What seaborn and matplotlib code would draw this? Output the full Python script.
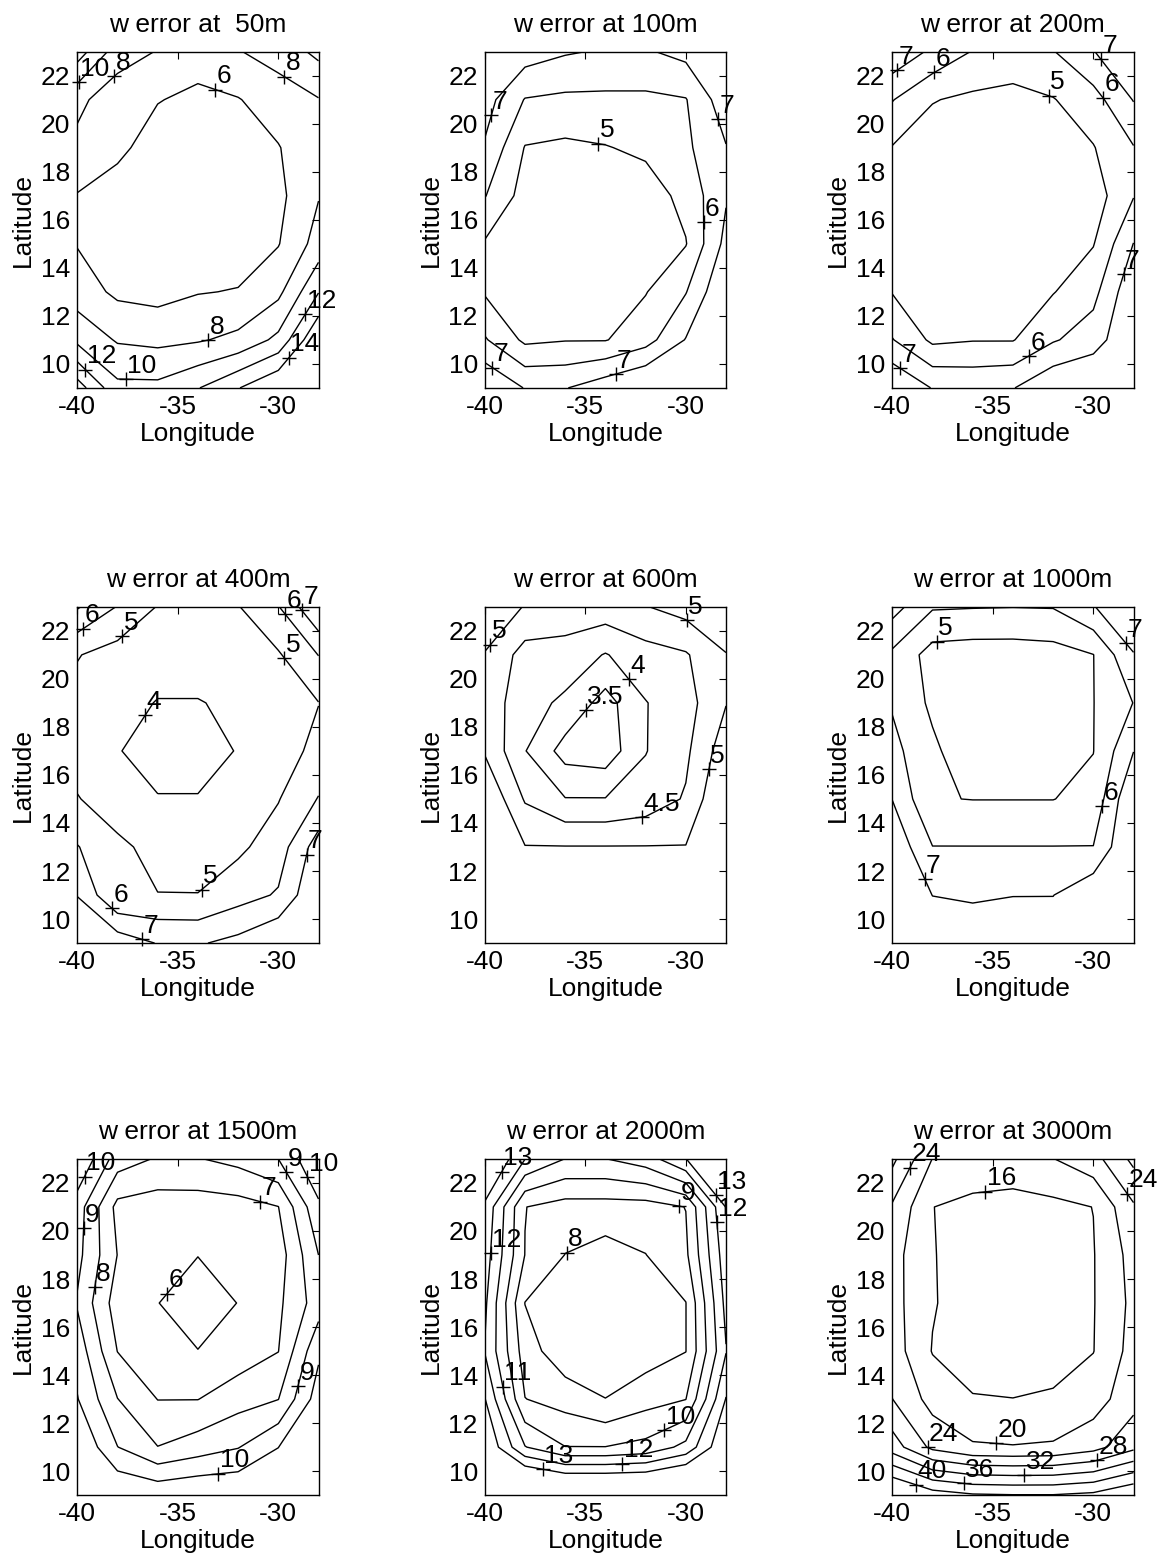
import numpy as np
import matplotlib
matplotlib.use("Agg")
import matplotlib.pyplot as plt
import seaborn as sns

sns.set_style("white")
plt.rcParams['font.family'] = ['Liberation Sans', 'DejaVu Sans']
plt.rcParams['axes.edgecolor'] = 'black'
plt.rcParams['axes.linewidth'] = 1.0
plt.rcParams['text.color'] = 'black'
plt.rcParams['axes.labelcolor'] = 'black'
plt.rcParams['axes.unicode_minus'] = False

# grid of the error fields (2 degree spacing), rows go from south (9N) to north (23N)
lon = [-40, -38, -36, -34, -32, -30, -28]
lat = [9, 11, 13, 15, 17, 19, 21, 23]

w50 = [[15.0, 10.5, 10.5, 11.9, 13.9, 16.0, 18.0],
       [9.5, 7.8, 7.5, 7.8, 8.5, 10.5, 16.0],
       [7.0, 5.6, 5.3, 5.9, 6.1, 7.5, 11.9],
       [5.9, 4.8, 4.3, 4.5, 5.0, 5.9, 8.8],
       [5.9, 5.0, 4.5, 4.3, 4.5, 5.5, 7.9],
       [7.5, 6.5, 5.0, 4.5, 5.0, 5.9, 7.5],
       [8.5, 6.8, 6.1, 5.5, 5.9, 7.0, 7.9],
       [13.0, 9.0, 7.9, 7.0, 7.9, 8.8, 10.5]]

w100 = [[8.0, 6.95, 6.95, 7.6, 8.2, 8.6, 9.0],
        [6.1, 4.8, 4.95, 4.95, 5.6, 7.05, 8.5],
        [4.9, 4.3, 4.2, 4.5, 4.95, 5.95, 8.0],
        [4.9, 4.3, 4.0, 4.1, 4.4, 4.95, 7.3],
        [6.05, 4.6, 4.3, 4.2, 4.5, 5.3, 6.9],
        [6.9, 4.95, 4.8, 4.95, 5.2, 5.8, 6.95],
        [7.4, 5.95, 5.8, 5.8, 5.8, 5.95, 7.6],
        [7.6, 7.5, 7.1, 6.9, 6.9, 7.3, 7.8]]

w200 = [[8.0, 6.95, 6.8, 6.95, 7.9, 8.2, 8.6],
        [6.05, 4.8, 4.95, 4.95, 5.9, 6.5, 8.0],
        [4.95, 4.5, 4.3, 4.6, 4.95, 5.7, 7.8],
        [4.6, 4.2, 4.0, 4.0, 4.3, 4.95, 7.02],
        [4.6, 4.2, 4.0, 3.9, 4.0, 4.5, 5.95],
        [4.95, 4.5, 4.3, 4.2, 4.3, 4.95, 5.95],
        [6.05, 5.05, 4.8, 4.7, 4.95, 5.6, 7.05],
        [7.8, 6.8, 5.95, 5.6, 5.95, 6.95, 8.2]]

w400 = [[8.5, 7.6, 6.95, 6.9, 7.3, 8.0, 9.0],
        [6.95, 5.02, 5.02, 5.02, 5.6, 6.1, 8.0],
        [6.05, 5.2, 4.7, 4.6, 4.8, 5.5, 7.5],
        [5.05, 4.5, 4.05, 4.05, 4.5, 4.95, 6.05],
        [4.6, 4.05, 3.6, 3.6, 4.05, 4.5, 5.3],
        [4.7, 4.4, 3.95, 3.95, 4.2, 4.6, 4.98],
        [5.05, 4.6, 4.5, 4.5, 4.6, 4.9, 6.02],
        [7.1, 5.95, 4.95, 4.8, 4.95, 5.95, 8.0]]

w600 = [[6.2, 5.9, 5.8, 5.8, 5.8, 5.9, 6.2],
        [6.0, 5.6, 5.5, 5.5, 5.5, 5.6, 6.0],
        [5.8, 5.02, 5.02, 5.02, 5.02, 5.02, 5.8],
        [5.5, 4.45, 4.02, 4.02, 4.2, 4.55, 5.6],
        [4.95, 4.02, 3.3, 3.2, 3.98, 4.4, 5.3],
        [4.8, 4.2, 3.9, 3.3, 3.98, 4.3, 4.98],
        [4.97, 4.3, 4.3, 3.97, 4.3, 4.45, 4.98],
        [5.4, 4.97, 4.8, 4.8, 4.98, 5.2, 5.4]]

w1000 = [[9.0, 8.0, 7.5, 7.6, 7.7, 8.2, 9.0],
         [8.5, 6.98, 6.9, 6.98, 6.98, 7.8, 8.5],
         [7.8, 6.02, 6.02, 6.02, 6.02, 6.02, 8.2],
         [6.98, 5.05, 4.98, 4.98, 4.98, 5.3, 8.0],
         [6.3, 5.2, 4.3, 4.2, 4.3, 4.98, 6.98],
         [5.9, 4.8, 4.3, 4.2, 4.3, 4.98, 6.02],
         [5.8, 4.6, 4.5, 4.5, 4.6, 4.98, 6.95],
         [7.4, 6.1, 6.05, 6.02, 6.05, 6.95, 7.9]]

w1500 = [[12.0, 11.0, 10.8, 11.0, 11.0, 11.5, 13.0],
         [11.0, 9.02, 8.02, 8.5, 8.95, 9.98, 12.0],
         [10.05, 8.02, 6.98, 6.98, 7.6, 7.98, 10.5],
         [9.6, 6.98, 6.3, 6.02, 6.4, 6.98, 9.8],
         [8.9, 6.5, 6.02, 5.5, 6.02, 6.8, 8.5],
         [9.3, 6.98, 6.3, 6.02, 6.5, 6.5, 9.0],
         [9.5, 6.7, 6.5, 6.5, 6.6, 6.98, 9.8],
         [11.0, 8.5, 7.9, 7.95, 8.3, 9.0, 11.0]]

w2000 = [[16.5, 16.0, 15.5, 15.5, 15.5, 16.0, 17.0],
         [14.0, 11.05, 10.02, 10.02, 10.3, 11.3, 14.0],
         [13.05, 9.02, 8.6, 8.02, 8.6, 8.98, 13.05],
         [11.95, 8.5, 7.3, 7.1, 7.5, 7.98, 11.95],
         [12.2, 7.98, 7.3, 7.2, 7.4, 7.98, 12.3],
         [12.5, 8.98, 7.98, 7.6, 7.98, 8.8, 12.6],
         [12.8, 9.02, 8.6, 8.6, 8.6, 9.02, 13.05],
         [14.5, 12.02, 10.98, 10.98, 11.5, 12.98, 14.5]]

w3000 = [[46.0, 42.0, 40.5, 40.2, 40.2, 41.0, 44.0],
         [30.0, 23.0, 20.5, 20.2, 20.5, 22.5, 27.0],
         [24.05, 18.5, 16.2, 16.05, 16.5, 18.2, 22.5],
         [22.0, 15.8, 14.5, 14.0, 14.3, 15.9, 21.5],
         [21.5, 16.3, 14.0, 13.5, 14.0, 15.8, 21.0],
         [21.5, 16.2, 14.2, 13.8, 14.2, 15.8, 21.5],
         [23.5, 16.05, 15.0, 14.6, 15.0, 16.05, 23.5],
         [29.0, 19.9, 18.5, 18.3, 19.9, 22.5, 29.0]]

fields = [w50, w100, w200, w400, w600, w1000, w1500, w2000, w3000]
titles = ['w error at  50m', 'w error at 100m', 'w error at 200m',
          'w error at 400m', 'w error at 600m', 'w error at 1000m',
          'w error at 1500m', 'w error at 2000m', 'w error at 3000m']
levels = [[6, 8, 10, 12, 14], [5, 6, 7], [5, 6, 7],
          [4, 5, 6, 7], [3.5, 4, 4.5, 5], [5, 6, 7],
          [6, 7, 8, 9, 10], [8, 9, 10, 11, 12, 13], [16, 20, 24, 28, 32, 36, 40]]

# candidate spots along each contour piece for its label
label_frac = [0.3, 0.55, 0.8, 0.15, 0.45, 0.7, 0.9, 0.05, 0.4, 0.65, 0.95, 0.2]

fs = 19
fig = plt.figure(figsize=(11.71, 15.64), dpi=100)
col_left = [0.066, 0.414, 0.762]
row_bottom = [0.752, 0.397, 0.044]
aw, ah = 0.206, 0.215


def free_spot(px, py, taken, top):
    # label box sits up-right of the '+' ; keep it off other labels and the title
    if py > top - 6:
        return False
    for qx, qy in taken:
        if abs(px - qx) < 34 and abs(py - qy) < 26:
            return False
    return True


for i in range(9):
    ax = fig.add_axes([col_left[i % 3], row_bottom[i // 3], aw, ah])
    ax.set_xlim(-40, -28)
    ax.set_ylim(9, 23)
    z = np.array(fields[i])
    cs = ax.contour(lon, lat, z, levels=levels[i], colors='k', linewidths=1.0)
    top = ax.transData.transform((-34, 23))[1]

    taken = []
    # matlab clabel look: a '+' on the line and the value next to it
    for k, path in enumerate(cs.get_paths()):
        lev = cs.levels[k]
        for seg in path.to_polygons(closed_only=False):
            if len(seg) < 2:
                continue
            d = np.r_[0, np.cumsum(np.hypot(np.diff(seg[:, 0]), np.diff(seg[:, 1])))]
            if d[-1] < 1.0:
                continue
            start = k % len(label_frac)
            order = label_frac[start:] + label_frac[:start]
            pick = None
            for f in order:
                x = np.interp(f * d[-1], d, seg[:, 0])
                y = np.interp(f * d[-1], d, seg[:, 1])
                px, py = ax.transData.transform((x, y))
                if free_spot(px, py, taken, top):
                    pick = (x, y, px, py)
                    break
            if pick is None:
                f = order[0]
                x = np.interp(f * d[-1], d, seg[:, 0])
                y = np.interp(f * d[-1], d, seg[:, 1])
                px, py = ax.transData.transform((x, y))
                pick = (x, y, px, py)
            x, y, px, py = pick
            taken.append((px, py))
            ax.plot(x, y, marker='+', color='k', ms=10, mew=1.0, clip_on=False)
            ax.annotate('%g' % lev, (x, y), xytext=(1, 1), textcoords='offset points',
                        fontsize=fs, ha='left', va='bottom', annotation_clip=False)

    ax.set_xticks([-40, -35, -30])
    ax.set_yticks([10, 12, 14, 16, 18, 20, 22])
    ax.tick_params(direction='in', top=True, right=True, length=5, width=0.8,
                   labelsize=fs, pad=5, colors='k')
    ax.set_title(titles[i], fontsize=fs, pad=14)
    ax.set_xlabel('Longitude', fontsize=fs, labelpad=2)
    ax.set_ylabel('Latitude', fontsize=fs, labelpad=4)

fig.savefig('out.png', dpi=100)
